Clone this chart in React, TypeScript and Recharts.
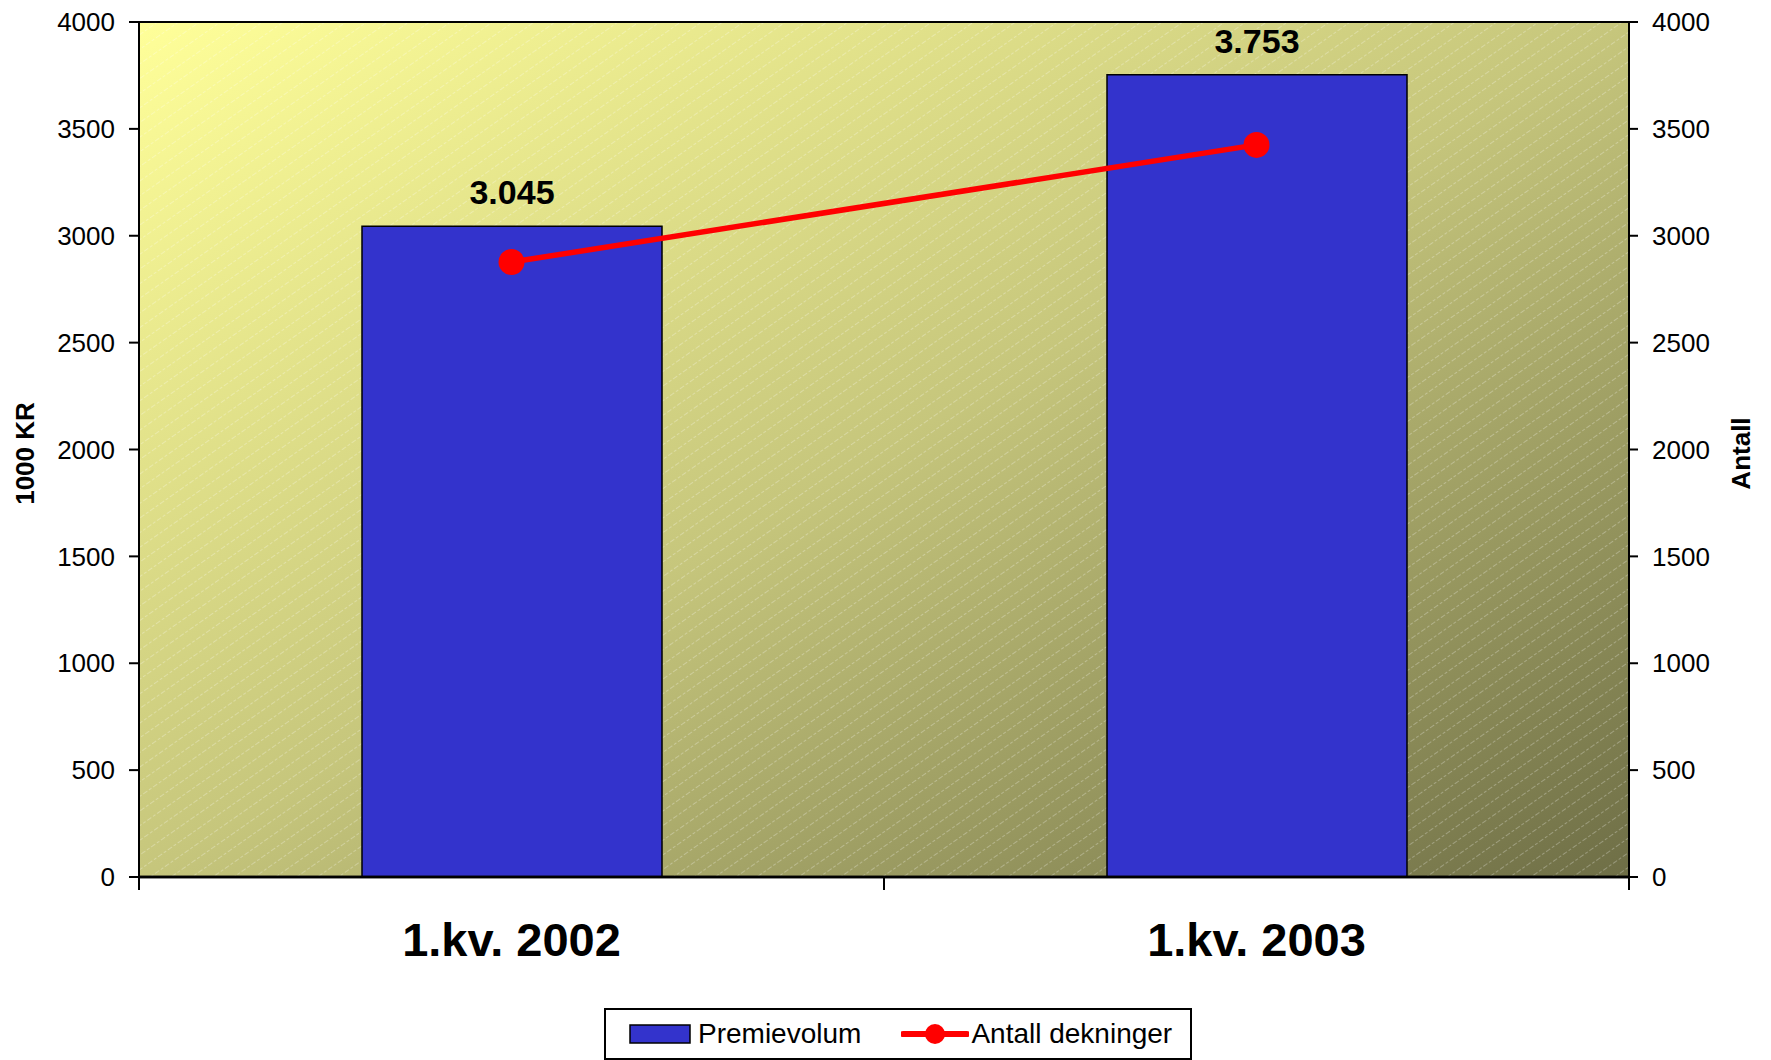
import React from 'react';
import {
  ComposedChart,
  Bar,
  Line,
  XAxis,
  YAxis,
  LabelList,
  Legend,
  CartesianGrid,
  ReferenceArea,
  ReferenceLine,
} from 'recharts';

const categories = ['1.kv. 2002', '1.kv. 2003'];
const premievolum = [3045, 3753];
const antallDekninger = [2877, 3425];
const yTicks = [0, 500, 1000, 1500, 2000, 2500, 3000, 3500, 4000];
const boundaryTicks = [0, 1, 2];

const data = categories.map((c, i) => ({
  name: c,
  premie: premievolum[i],
  antall: antallDekninger[i],
  pos: i + 0.5,
}));

const FONT = 'Arial, "Liberation Sans", Helvetica, sans-serif';

const fmtThousands = (v: any) => {
  const n = Number(v);
  const s = String(Math.round(n));
  return s.replace(/\B(?=(\d{3})+(?!\d))/g, '.');
};

const LeftTitle = (props: any) => {
  const vb = props.viewBox || {};
  const cx = 25;
  const cy = (vb.y ?? 22) + (vb.height ?? 855) / 2 + 4;
  return (
    <text
      x={cx}
      y={cy}
      transform={`rotate(-90 ${cx} ${cy})`}
      textAnchor="middle"
      dominantBaseline="central"
      fontFamily={FONT}
      fontWeight="bold"
      fontSize={26}
      fill="#000"
    >
      1000 KR
    </text>
  );
};

const RightTitle = (props: any) => {
  const vb = props.viewBox || {};
  const cx = (vb.x ?? 1629) + 112;
  const cy = (vb.y ?? 22) + (vb.height ?? 855) / 2 + 4;
  return (
    <text
      x={cx}
      y={cy}
      transform={`rotate(-90 ${cx} ${cy})`}
      textAnchor="middle"
      dominantBaseline="central"
      fontFamily={FONT}
      fontWeight="bold"
      fontSize={26}
      fill="#000"
    >
      Antall
    </text>
  );
};

const LegendContent = () => (
  <div
    style={{
      boxSizing: 'border-box',
      width: 588,
      height: 52,
      border: '2px solid #000',
      background: '#fff',
      display: 'flex',
      alignItems: 'center',
      fontFamily: FONT,
      fontSize: 28,
      color: '#000',
      paddingLeft: 23,
    }}
  >
    <svg width={62} height={20} style={{ marginRight: 7 }}>
      <rect x={1} y={1} width={60} height={18} fill="#3333CC" stroke="#000" strokeWidth={1.5} />
    </svg>
    <span>Premievolum</span>
    <svg width={68} height={28} style={{ marginLeft: 40, marginRight: 2 }}>
      <line x1={2} y1={14} x2={66} y2={14} stroke="#FF0000" strokeWidth={6} strokeLinecap="round" />
      <circle cx={34} cy={14} r={10} fill="#FF0000" />
    </svg>
    <span>Antall dekninger</span>
  </div>
);

export default function App() {
  return (
    <div style={{ position: 'absolute', left: 0, top: 0, width: 1771, height: 1060, background: '#fff' }}>
      <ComposedChart
        width={1771}
        height={1060}
        data={data}
        margin={{ top: 22, right: 0, bottom: 0, left: 0 }}
      >
        <defs>
          <linearGradient id="bgGrad" x1="0" y1="0" x2="1" y2="1">
            <stop offset="0%" stopColor="#FFFF99" />
            <stop offset="50%" stopColor="#C6C67C" />
            <stop offset="100%" stopColor="#6E6E46" />
          </linearGradient>
          <pattern
            id="hatch"
            patternUnits="userSpaceOnUse"
            width={12}
            height={12}
            patternTransform="rotate(-35)"
          >
            <line x1={0} y1={0.5} x2={12} y2={0.5} stroke="#ffffff" strokeOpacity={0.28} strokeWidth={1} strokeDasharray="3 2" />
          </pattern>
        </defs>
        <CartesianGrid
          xAxisId="b"
          yAxisId="left"
          horizontal={false}
          vertical={false}
          fill="url(#bgGrad)"
          fillOpacity={1}
        />
        <ReferenceArea
          xAxisId="b"
          yAxisId="left"
          y1={0}
          y2={4000}
          fill="url(#hatch)"
          fillOpacity={1}
          stroke="none"
          ifOverflow="visible"
        />
        <XAxis
          xAxisId="a"
          type="number"
          dataKey="pos"
          domain={[0, 2]}
          ticks={boundaryTicks}
          height={1}
          tickSize={13}
          tickFormatter={() => ''}
          axisLine={{ stroke: '#000', strokeWidth: 2.5 }}
          tickLine={{ stroke: '#000', strokeWidth: 2 }}
          allowDataOverflow
        />
        <XAxis
          xAxisId="b"
          dataKey="name"
          height={130}
          axisLine={false}
          tickLine={false}
          tickSize={0}
          tickMargin={45}
          tick={{ fontFamily: FONT, fontSize: 47, fontWeight: 'bold', fill: '#000' }}
          interval={0}
        />
        <YAxis
          yAxisId="left"
          orientation="left"
          width={139}
          domain={[0, 4000]}
          ticks={yTicks}
          interval={0}
          tickSize={10}
          tickMargin={14}
          axisLine={{ stroke: '#000', strokeWidth: 2 }}
          tickLine={{ stroke: '#000', strokeWidth: 2 }}
          tick={{ fontFamily: FONT, fontSize: 26, fill: '#000' }}
          label={(p: any) => <LeftTitle {...p} />}
        />
        <YAxis
          yAxisId="right"
          orientation="right"
          width={142}
          domain={[0, 4000]}
          ticks={yTicks}
          interval={0}
          tickSize={9}
          tickMargin={14}
          axisLine={{ stroke: '#000', strokeWidth: 2 }}
          tickLine={{ stroke: '#000', strokeWidth: 2 }}
          tick={{ fontFamily: FONT, fontSize: 26, fill: '#000' }}
          label={(p: any) => <RightTitle {...p} />}
        />
        <ReferenceLine
          xAxisId="b"
          yAxisId="left"
          y={4000}
          stroke="#000"
          strokeWidth={2}
          ifOverflow="visible"
        />
        <ReferenceLine
          xAxisId="b"
          yAxisId="left"
          y={0}
          stroke="#000"
          strokeWidth={2.5}
          ifOverflow="visible"
        />
        <Bar
          xAxisId="b"
          yAxisId="left"
          dataKey="premie"
          name="Premievolum"
          fill="#3333CC"
          stroke="#000"
          strokeWidth={1.5}
          barSize={300}
          isAnimationActive={false}
        >
          <LabelList
            dataKey="premie"
            position="top"
            offset={22}
            formatter={fmtThousands}
            style={{ fontFamily: FONT, fontSize: 34, fontWeight: 'bold', fill: '#000' }}
          />
        </Bar>
        <Line
          xAxisId="b"
          yAxisId="right"
          dataKey="antall"
          name="Antall dekninger"
          stroke="#FF0000"
          strokeWidth={5.5}
          dot={{ r: 12, fill: '#FF0000', stroke: '#FF0000', strokeWidth: 2 }}
          activeDot={false}
          isAnimationActive={false}
        />
        <Legend
          verticalAlign="bottom"
          content={() => <LegendContent />}
          wrapperStyle={{ left: 604, top: 1008, width: 588, height: 52 }}
        />
      </ComposedChart>
    </div>
  );
}
